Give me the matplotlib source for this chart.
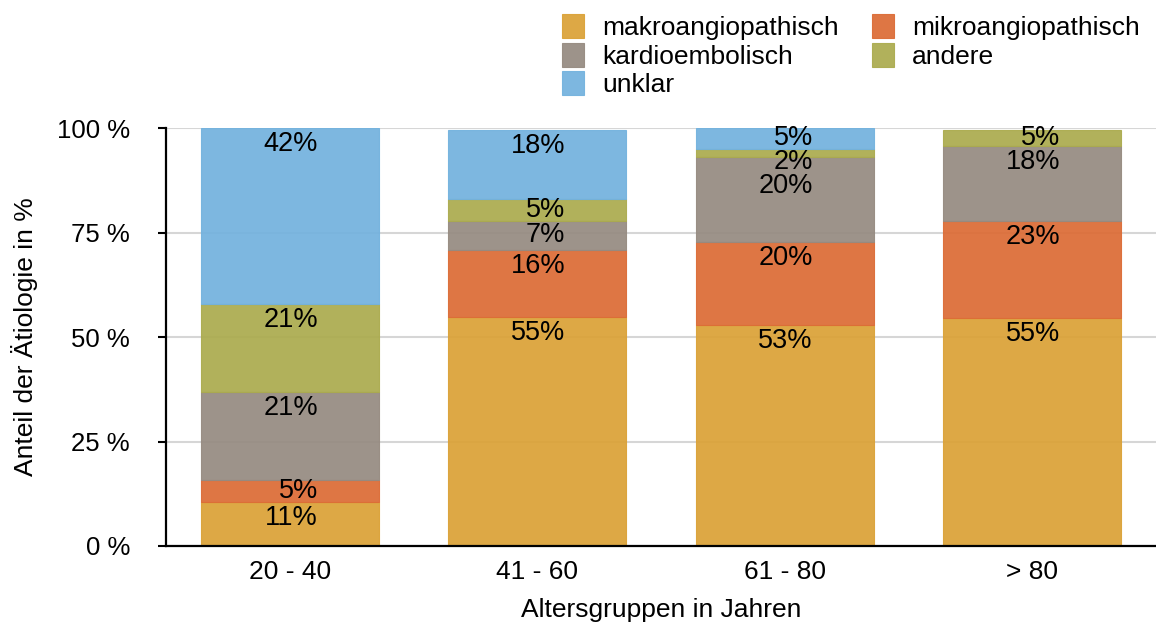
import matplotlib
matplotlib.use("Agg")
import matplotlib.pyplot as plt
import numpy as np

plt.rcParams["font.family"] = ["Liberation Sans", "DejaVu Sans"]

# ---- data (percent per age group) ---------------------------------------------
groups = ["20 - 40", "41 - 60", "61 - 80", "> 80"]
series = ["makroangiopathisch", "mikroangiopathisch", "kardioembolisch", "andere", "unklar"]
makro = [10.5, 54.8, 52.9, 54.6]
mikro = [5.3, 16.0, 19.9, 23.2]
kardio = [21.1, 7.0, 20.3, 18.0]
andere = [21.1, 5.2, 1.9, 3.8]
unklar = [42.1, 16.6, 5.0, 0.0]
makro_lbl = ["11%", "55%", "53%", "55%"]
mikro_lbl = ["5%", "16%", "20%", "23%"]
kardio_lbl = ["21%", "7%", "20%", "18%"]
andere_lbl = ["21%", "5%", "2%", "5%"]
unklar_lbl = ["42%", "18%", "5%", ""]
yticks = [0, 25, 50, 75, 100]

colors = ["#DBA237", "#DC6C36", "#968B81", "#ABAB4E", "#73B2DE"]
values = [makro, mikro, kardio, andere, unklar]
labels = [makro_lbl, mikro_lbl, kardio_lbl, andere_lbl, unklar_lbl]

FS = 19

fig = plt.figure(figsize=(11.56, 6.26), dpi=100)
ax = fig.add_axes([0.1436, 0.1278, 0.8564, 0.6677])

x = np.arange(len(groups))
bottom = np.zeros(len(groups))
handles = []
for name, vals, col in zip(series, values, colors):
    h = ax.bar(x, vals, 0.72, bottom=bottom, color=col, alpha=0.93,
               edgecolor=col, linewidth=0.8, zorder=2, label=name)
    for patch, v in zip(h.patches, vals):
        if v <= 0:
            patch.set_visible(False)
    handles.append(h)
    bottom = bottom + np.array(vals)

ax.set_xlim(-0.5, 3.5)
ax.set_ylim(0, 100)

# ---- segment labels: near the top of each segment, pushed down on overlap ------
px_per_pct = ax.bbox.height / 100.0
min_gap = 24 / px_per_pct
for i in range(len(groups)):
    tops = np.cumsum([v[i] for v in values])
    prev = None
    for k in reversed(range(len(series))):
        txt = labels[k][i]
        if not txt:
            continue
        h_px = values[k][i] * px_per_pct
        y = tops[k] - min(16.0, 0.5 * h_px) / px_per_pct
        if prev is not None and prev - y < min_gap:
            y = prev - min_gap
        prev = y
        ax.annotate(txt, (x[i], y), xytext=(28, 0), textcoords="offset pixels",
                    ha="right", va="center", fontsize=FS + 0.5, color="black", zorder=3)

# ---- axes styling --------------------------------------------------------------
ax.set_yticks(yticks)
ax.set_yticklabels([f"{t} %" for t in yticks], fontsize=18.5)
ax.set_xticks(x)
ax.set_xticklabels(groups, fontsize=FS)
ax.tick_params(axis="y", length=6, width=1.5, pad=20, direction="out")
ax.tick_params(axis="x", length=0, pad=10)
ax.yaxis.grid(True, color="#d6d6d6", linewidth=1.5, zorder=0)
ax.set_axisbelow(True)
for s in ["top", "right"]:
    ax.spines[s].set_visible(False)
for s in ["left", "bottom"]:
    ax.spines[s].set_linewidth(1.6)
    ax.spines[s].set_zorder(4)

ax.set_ylabel("Anteil der Ätiologie in %", fontsize=FS)
ax.yaxis.set_label_coords(-0.129, 0.5)
ax.set_xlabel("Altersgruppen in Jahren", fontsize=FS)
ax.xaxis.set_label_coords(0.5, -0.125)

# legend: two columns, filled column-wise -> reorder so rows read makro|mikro, kardio|andere, unklar
order = [0, 2, 4, 1, 3]
leg = fig.legend([handles[j] for j in order], [series[j] for j in order],
                 loc="upper left", bbox_to_anchor=(0.486, 0.977), ncol=2,
                 frameon=False, fontsize=FS, handlelength=0.83, handleheight=1.0,
                 handletextpad=0.7, columnspacing=1.25, labelspacing=0.1,
                 borderpad=0, borderaxespad=0)

fig.savefig("out.png", dpi=100)
